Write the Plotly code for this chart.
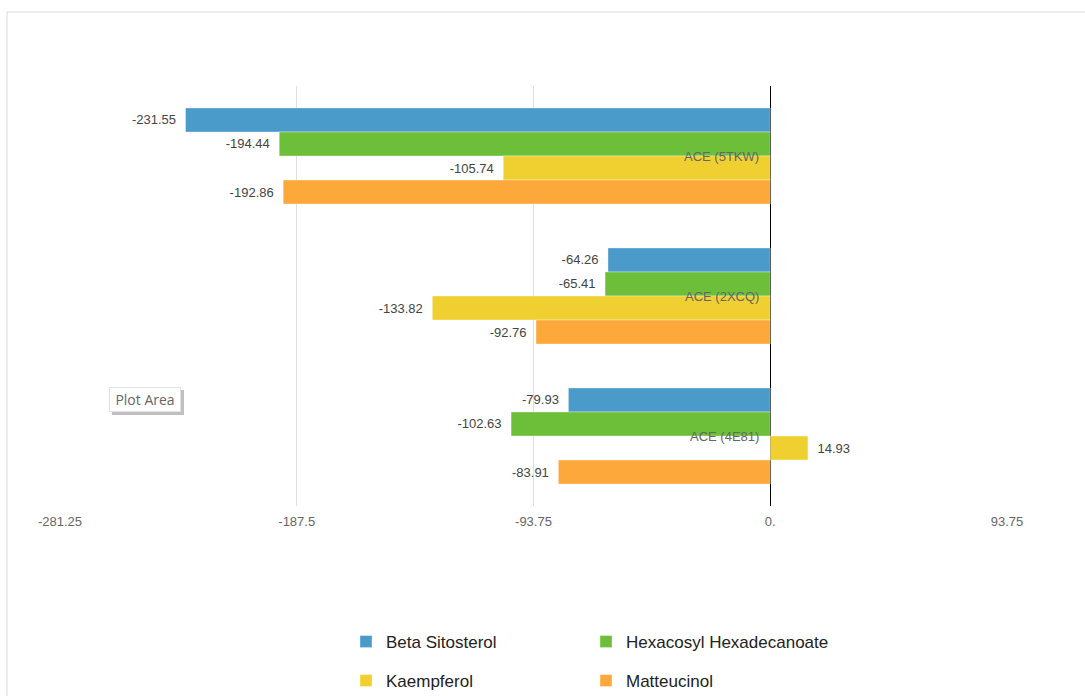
import plotly.graph_objects as go

# Docking scores per receptor
receptors = ["ACE (5TKW)", "ACE (2XCQ)", "ACE (4E81)"]
beta_sitosterol = [-231.55, -64.26, -79.93]
hexacosyl_hexadecanoate = [-194.44, -65.41, -102.63]
kaempferol = [-105.74, -133.82, 14.93]
matteucinol = [-192.86, -92.76, -83.91]

tick_vals = [-281.25, -187.5, -93.75, 0, 93.75]
tick_text = ["-281.25", "-187.5", "-93.75", "0.", "93.75"]

W, H = 1085, 696
L, R, T, B = 60, 78, 86, 190
pw, ph = W - L - R, H - T - B


def px(x):
    return (x - L) / pw


def py(y):
    return (H - B - y) / ph


# name, values, colour, legend id, legend anchor (pixel x, pixel y)
series = [
    ("Beta Sitosterol", beta_sitosterol, "#4a9bca", "legend", (346, 642)),
    ("Hexacosyl Hexadecanoate", hexacosyl_hexadecanoate, "#6dbf39", "legend2", (586, 642)),
    ("Kaempferol", kaempferol, "#f0d030", "legend3", (346, 681)),
    ("Matteucinol", matteucinol, "#fda83a", "legend4", (586, 681)),
]

FONT = "Liberation Sans, Arial, sans-serif"
PAD = "\u2002"  # extra breathing room between a bar end and its value label


def label(v):
    return f"{v:.2f}{PAD}" if v < 0 else f"{PAD}{v:.2f}"


fig = go.Figure()
legends = {}
for name, vals, color, lg, (lx, ly) in series:
    fig.add_trace(go.Bar(
        y=receptors, x=vals, name=name, orientation="h",
        marker=dict(color=color, line=dict(color="rgba(255,255,255,0.35)", width=1)),
        text=[label(v) for v in vals], textposition="outside",
        textfont=dict(size=13, color="#444444", family=FONT),
        cliponaxis=False, legend=lg,
    ))
    legends[lg] = dict(x=px(lx), y=py(ly), xanchor="left", yanchor="middle",
                       font=dict(size=17, color="#222222", family=FONT),
                       bgcolor="rgba(0,0,0,0)", itemclick=False, itemdoubleclick=False)

# Receptor names sit just left of the zero line, centred on each group
for r in receptors:
    fig.add_annotation(x=0, y=r, xref="x", yref="y", text=r, showarrow=False,
                       xanchor="right", yanchor="middle", xshift=-9,
                       font=dict(size=13, color="#666666", family=FONT))

# Outer frame of the chart container
fig.add_shape(type="rect", xref="paper", yref="paper",
              x0=px(7), x1=px(1100), y0=py(720), y1=py(12),
              line=dict(color="#d9d9d9", width=1), fillcolor="rgba(0,0,0,0)", layer="below")

# "Plot Area" hover badge with its drop shadow
fig.add_shape(type="rect", xref="paper", yref="paper",
              x0=px(112), x1=px(184), y0=py(415), y1=py(390),
              line=dict(width=0), fillcolor="rgba(150,150,150,0.6)")
fig.add_annotation(x=px(109), y=py(387), xref="paper", yref="paper",
                   text="Plot Area", showarrow=False, xanchor="left", yanchor="top",
                   width=66, height=19,
                   bgcolor="white", bordercolor="#e2e2e2", borderwidth=1, borderpad=2,
                   font=dict(size=14, color="#666666", family="Open Sans, sans-serif"))

fig.update_layout(
    width=W, height=H,
    margin=dict(l=L, r=R, t=T, b=B, autoexpand=False),
    paper_bgcolor="white", plot_bgcolor="white",
    barmode="group", bargap=0.314, bargroupgap=0,
    font=dict(family=FONT, color="#666666"),
    xaxis=dict(range=[-281.25, 93.75], tickvals=tick_vals, ticktext=tick_text,
               showgrid=True, gridcolor="#dedede", gridwidth=1,
               zeroline=True, zerolinecolor="#000000", zerolinewidth=1,
               showline=False, ticks="", ticklabelstandoff=6,
               tickfont=dict(size=13, color="#666666"), fixedrange=True),
    yaxis=dict(autorange="reversed", showticklabels=False, showgrid=False,
               zeroline=False, showline=False, ticks="", fixedrange=True),
    showlegend=True,
    **legends,
)

fig.write_html("out.html")
